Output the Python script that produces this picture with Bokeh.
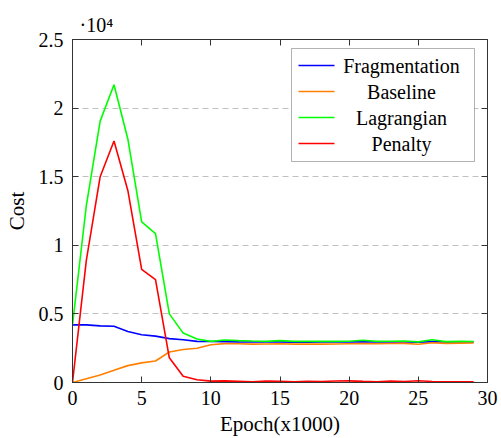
from bokeh.plotting import figure
from bokeh.models import (Range1d, LinearAxis, FixedTicker, CustomJSTickFormatter,
                          BoxAnnotation, Label)
from bokeh.embed import file_html
from bokeh.resources import INLINE

# ---- data ----
epochs = list(range(30))
fragmentation = [4200, 4200, 4130, 4100, 3720, 3480, 3380, 3200, 3120, 3000,
                 2990, 2980, 2960, 2950, 2950, 2960, 2940, 2940, 2950, 2950,
                 2950, 2960, 2950, 2950, 2960, 2940, 2980, 2950, 2950, 2950]
baseline = [0, 280, 540, 890, 1230, 1430, 1570, 2220, 2410, 2500,
            2750, 2830, 2820, 2800, 2810, 2820, 2800, 2810, 2800, 2810,
            2820, 2830, 2820, 2840, 2850, 2790, 2900, 2850, 2870, 2880]
lagrangian = [4200, 12900, 19050, 21700, 17750, 11700, 10850, 5000, 3600, 3170,
              3000, 3100, 3050, 3020, 3000, 3050, 3000, 3000, 3010, 3000,
              3010, 3080, 3000, 3010, 3030, 2960, 3120, 2980, 3000, 2990]
penalty = [0, 8900, 15000, 17600, 14000, 8240, 7500, 1800, 460, 200,
           100, 120, 90, 60, 100, 80, 60, 90, 70, 110,
           120, 80, 60, 110, 70, 130, 70, 60, 60, 60]

series_names = ["Fragmentation", "Baseline", "Lagrangian", "Penalty"]
series_colors = ["#0000ff", "#ff8000", "#00ff00", "#ff0000"]

x_ticks = [0, 5, 10, 15, 20, 25, 30]
y_ticks = [0, 5000, 10000, 15000, 20000, 25000]
y_scale_text = "\u00b710\u2074"

FONT = "Liberation Serif"
FRAME = "#333333"

p = figure(width=501, height=438, output_backend="svg", toolbar_location=None,
           x_range=Range1d(0, 30), y_range=Range1d(0, 25000),
           min_border_left=72, min_border_right=14, min_border_top=39, min_border_bottom=55,
           x_axis_label="Epoch(x1000)", y_axis_label="Cost")
p.background_fill_color = "white"
p.border_fill_color = "white"
p.outline_line_color = FRAME
p.outline_line_width = 1

p.title.text = y_scale_text
p.title.align = "left"
p.title.offset = 7
p.title.standoff = 7
p.title.text_font = FONT
p.title.text_font_size = "20px"
p.title.text_font_style = "normal"
p.title.text_color = "black"

p.xgrid.visible = False
p.ygrid.ticker = FixedTicker(ticks=y_ticks[1:-1])
p.ygrid.grid_line_color = "#c0c0c0"
p.ygrid.grid_line_dash = "6 4"
p.ygrid.grid_line_width = 1

p.xaxis.ticker = FixedTicker(ticks=x_ticks)
p.yaxis.ticker = FixedTicker(ticks=y_ticks)
p.yaxis.formatter = CustomJSTickFormatter(code="return (tick / 10000).toString();")

for ax in p.xaxis + p.yaxis:
    ax.axis_line_color = FRAME
    ax.major_tick_line_color = FRAME
    ax.major_tick_in = 6
    ax.major_tick_out = 0
    ax.minor_tick_line_color = None
    ax.major_label_text_font = FONT
    ax.major_label_text_font_size = "20px"
    ax.major_label_text_color = "black"
    ax.axis_label_text_font = FONT
    ax.axis_label_text_font_size = "21px"
    ax.axis_label_text_font_style = "normal"
    ax.axis_label_text_color = "black"
p.xaxis.major_label_standoff = 8
p.xaxis.axis_label_standoff = 4
p.yaxis.major_label_standoff = 9
p.yaxis.axis_label_standoff = 7

top = LinearAxis(ticker=FixedTicker(ticks=x_ticks[1:-1]))
right = LinearAxis(ticker=FixedTicker(ticks=y_ticks[1:-1]))
for ax in (top, right):
    ax.axis_line_color = FRAME
    ax.major_tick_line_color = FRAME
    ax.major_tick_in = 6
    ax.major_tick_out = 0
    ax.minor_tick_line_color = None
    ax.formatter = CustomJSTickFormatter(code="return '';")
    ax.major_label_text_font_size = "1px"
    ax.major_label_standoff = 0
p.add_layout(top, "above")
p.add_layout(right, "right")

for ys, c in zip([fragmentation, baseline, lagrangian, penalty], series_colors):
    p.line(epochs, ys, line_color=c, line_width=1.6)

# ---- legend box (screen units, relative to the frame's bottom-left) ----
LEG_LEFT, LEG_RIGHT, LEG_TOP, LEG_BOTTOM = 219, 402, 334, 221
ROW_Y0, ROW_STEP = 317, 26
SW_LEFT, SW_RIGHT = 226, 262
TEXT_X = 329
p.add_layout(BoxAnnotation(left=LEG_LEFT, right=LEG_RIGHT, top=LEG_TOP, bottom=LEG_BOTTOM,
                           left_units="screen", right_units="screen",
                           top_units="screen", bottom_units="screen",
                           fill_color="white", fill_alpha=1,
                           line_color="black", line_width=1))
for i, (name, c) in enumerate(zip(series_names, series_colors)):
    yc = ROW_Y0 - i * ROW_STEP
    p.add_layout(BoxAnnotation(left=SW_LEFT, right=SW_RIGHT, top=yc + 0.8, bottom=yc - 0.8,
                               left_units="screen", right_units="screen",
                               top_units="screen", bottom_units="screen",
                               fill_color=c, fill_alpha=1, line_color=None))
    p.add_layout(Label(x=TEXT_X, y=yc, x_units="screen", y_units="screen", text=name,
                       text_align="center", text_baseline="middle",
                       text_font=FONT, text_font_size="20px", text_color="black"))

open("out.html", "w").write(file_html(p, INLINE))
